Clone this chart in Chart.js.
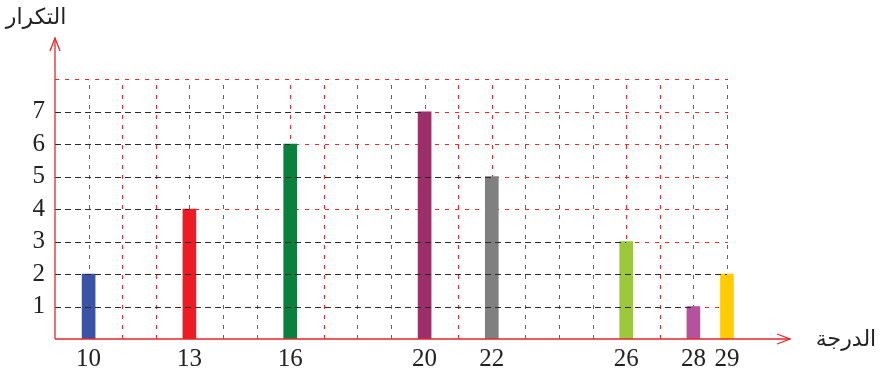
<!DOCTYPE html>
<html>
<head>
<meta charset="utf-8">
<script src="https://cdn.jsdelivr.net/npm/chart.js@4.4.1/dist/chart.umd.min.js"></script>
<style>
  html, body { margin: 0; padding: 0; background: #fff; }
  #wrap { width: 882px; height: 375px; }
</style>
</head>
<body>
<div id="wrap"><canvas id="freqChart"></canvas></div>
<script>
// data
const grades = [10, 13, 16, 20, 22, 26, 28, 29];
const counts = [2, 4, 6, 7, 5, 3, 1, 2];
const barColors = ['#3a53a4', '#ed1c24', '#0b7f3e', '#9b2f6a', '#808080', '#9bc83c', '#b6529d', '#ffcc00'];
const yTickValues = [1, 2, 3, 4, 5, 6, 7];
const gridX = [10, 11, 12, 13, 14, 15, 16, 17, 18, 19, 20, 21, 22, 23, 24, 25, 26, 27, 28, 29];
const gridY = [1, 2, 3, 4, 5, 6, 7, 8];
const xTitle = 'الدرجة';
const yTitle = 'التكرار';

const axisRed = '#e8262a';

// red grid under the bars, black guide lines + axes on top
const drawExtras = {
    id: 'drawExtras',
    beforeDatasetsDraw(chart) {
        const ctx = chart.ctx;
        const x = chart.scales.x, y = chart.scales.y;
        const x0 = x.getPixelForValue(x.min);
        const y0 = y.getPixelForValue(0);
        const xEnd = x.getPixelForValue(gridX[gridX.length - 1]);
        const yEnd = y.getPixelForValue(gridY[gridY.length - 1]);
        ctx.save();
        ctx.strokeStyle = '#f0282c';
        ctx.lineWidth = 1;
        ctx.setLineDash([4, 6]);
        gridY.forEach(v => {
            const py = Math.round(y.getPixelForValue(v)) + 0.5;
            ctx.beginPath(); ctx.moveTo(x0, py); ctx.lineTo(xEnd + 1, py); ctx.stroke();
        });
        gridX.forEach(v => {
            const px = Math.round(x.getPixelForValue(v)) + 0.5;
            ctx.beginPath(); ctx.moveTo(px, y0); ctx.lineTo(px, yEnd); ctx.stroke();
        });
        ctx.restore();
    },
    afterDatasetsDraw(chart) {
        const ctx = chart.ctx;
        const x = chart.scales.x, y = chart.scales.y;
        const x0 = x.getPixelForValue(x.min);
        const y0 = y.getPixelForValue(0);
        ctx.save();
        ctx.strokeStyle = '#2a2a2a';
        ctx.lineWidth = 1;
        ctx.setLineDash([6, 4]);
        grades.forEach((g, i) => {
            const py = Math.round(y.getPixelForValue(counts[i])) + 0.5;
            ctx.beginPath(); ctx.moveTo(x0, py); ctx.lineTo(x.getPixelForValue(g), py); ctx.stroke();
        });
        ctx.setLineDash([]);

        // axes with open arrow heads
        const right = chart.chartArea.right, top = chart.chartArea.top;
        ctx.strokeStyle = axisRed;
        ctx.lineWidth = 1.3;
        ctx.beginPath();
        ctx.moveTo(x0, y0); ctx.lineTo(right, y0);
        ctx.moveTo(x0, y0); ctx.lineTo(x0, top);
        ctx.stroke();
        ctx.beginPath();
        ctx.moveTo(right - 13, y0 - 5); ctx.lineTo(right, y0); ctx.lineTo(right - 13, y0 + 5);
        ctx.moveTo(x0 - 5, top + 13); ctx.lineTo(x0, top); ctx.lineTo(x0 + 5, top + 13);
        ctx.stroke();

        // axis titles
        ctx.fillStyle = '#222';
        ctx.font = '22px "DejaVu Sans"';
        ctx.textAlign = 'center';
        ctx.textBaseline = 'middle';
        ctx.fillText(yTitle, 36, 18);
        ctx.fillText(xTitle, 846, y0 + 1);
        ctx.restore();
    }
};

const data = {
    datasets: [{
        data: grades.map((g, i) => ({ x: g, y: counts[i] })),
        backgroundColor: barColors,
        borderWidth: 0,
        barThickness: 13
    }]
};

const tickFont = { family: '"Liberation Serif", serif', size: 25 };

const config = {
    type: 'bar',
    data,
    options: {
        animation: false,
        responsive: true,
        maintainAspectRatio: false,
        layout: { padding: { top: 38, right: 92, left: 0, bottom: 0 } },
        scales: {
            x: {
                type: 'linear',
                offset: false,
                min: 9,
                max: 30.875,
                grid: { display: false, drawTicks: false },
                border: { display: false },
                afterBuildTicks: s => { s.ticks = grades.map(v => ({ value: v })); },
                afterFit: s => { s.height = 36; },
                ticks: { font: tickFont, color: '#222', padding: 5, autoSkip: false, maxRotation: 0 }
            },
            y: {
                min: 0,
                max: 9.27,
                grid: { display: false, drawTicks: false },
                border: { display: false },
                afterBuildTicks: s => { s.ticks = yTickValues.map(v => ({ value: v })); },
                afterFit: s => { s.width = 55; },
                ticks: { font: tickFont, color: '#222', padding: 10 }
            }
        },
        plugins: {
            legend: { display: false },
            tooltip: { enabled: false }
        }
    },
    plugins: [drawExtras]
};

new Chart(document.getElementById('freqChart'), config);
</script>
</body>
</html>
